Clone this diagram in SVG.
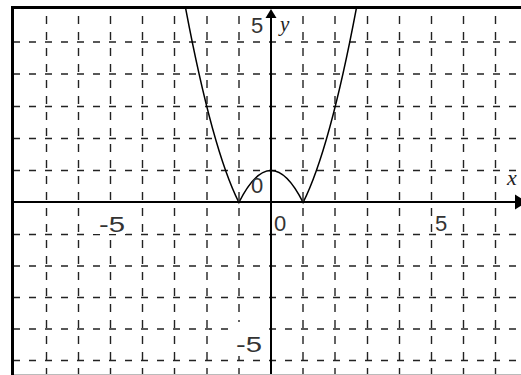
<svg xmlns="http://www.w3.org/2000/svg" width="521" height="375" viewBox="0 0 521 375">
<style>
.gv{stroke:#222;stroke-width:1.4;stroke-dasharray:8 8;fill:none}
.gh{stroke:#222;stroke-width:1.4;stroke-dasharray:7 9;fill:none}
.ax{stroke:#000;stroke-width:2;fill:none}
.lbl{font-family:"Liberation Sans",Arial,sans-serif;font-size:22px;fill:#333}
.var{font-family:"Liberation Serif","Times New Roman",serif;font-style:italic;fill:#222}
</style>
<defs>
<clipPath id="plot"><rect x="14" y="9" width="507" height="366"/></clipPath>
</defs>
<rect x="0" y="0" width="521" height="375" fill="#fff"/>
<g id="grid" clip-path="url(#plot)">
<path class="gv" d="M46.5 0V375M78.5 0V375M110.5 0V375M142.5 0V375M174.5 0V375M207 0V375M239 0V375M303 0V375M335 0V375M367.5 0V375M399.5 0V375M431.5 0V375M463.5 0V375M495.5 0V375"/>
<path class="gh" d="M13 42H521M13 74H521M13 106.5H521M13 138.5H521M13 170.5H521M13 234.5H521M13 266H521M13 297.5H521M13 329H521M13 360.5H521"/>
</g>
<g id="label-bg" fill="#fff">
<rect x="91" y="206" width="35" height="28"/>
<rect x="232" y="322" width="37" height="34"/>
</g>
<g id="axes">
<line class="ax" x1="14" y1="202" x2="517" y2="202"/>
<line class="ax" x1="271" y1="14" x2="271" y2="375"/>
<polygon points="271,9 265.5,18 276.5,18" fill="#000"/>
<polygon points="515,194.5 515,209.5 527,202" fill="#000"/>
</g>
<g id="curve" clip-path="url(#plot)">
<path d="M184.3 1.2Q211.6 148.1 238.9 202.5Q271 138.5 303.1 202.5Q330.4 148.1 357.7 1.2" fill="none" stroke="#000" stroke-width="1.5"/>
</g>
<g id="labels">
<text class="lbl" x="251" y="33">5</text>
<text class="var" x="280" y="31" font-size="21">y</text>
<text class="var" x="507" y="185" font-size="22">x</text>
<text class="lbl" x="99" y="232" textLength="26" lengthAdjust="spacingAndGlyphs">-5</text>
<text class="lbl" x="274" y="231">0</text>
<text class="lbl" x="435" y="231">5</text>
<text class="lbl" x="236" y="352" textLength="26" lengthAdjust="spacingAndGlyphs">-5</text>
<text class="lbl" x="251" y="193">0</text>
</g>
<g id="border">
<line x1="11" y1="7.5" x2="521" y2="7.5" stroke="#000" stroke-width="3"/>
<line x1="12.5" y1="6" x2="12.5" y2="375" stroke="#000" stroke-width="3"/>
<line x1="14" y1="374.5" x2="521" y2="374.5" stroke="#bbb" stroke-width="1"/>
</g>
</svg>
